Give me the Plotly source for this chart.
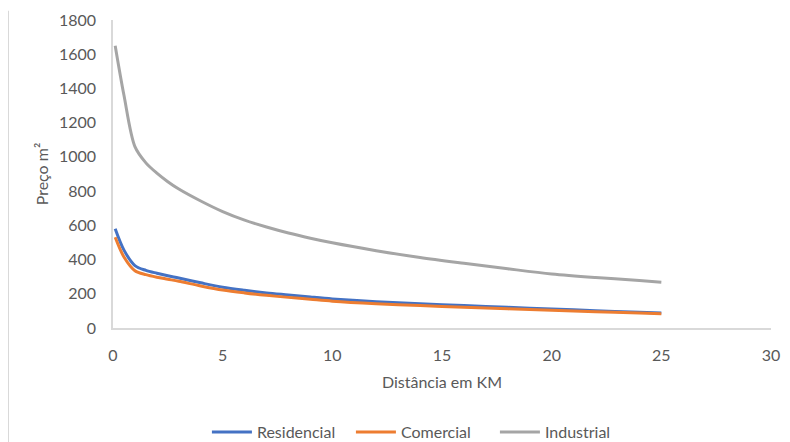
import plotly.graph_objects as go

distancia = [0.1, 0.5, 1, 1.5, 2, 2.5, 3, 4, 5, 6, 7, 8, 9, 10, 12, 14, 16, 18, 20, 22, 24, 25]
residencial = [580, 455, 365, 337, 320, 305, 292, 264, 238, 220, 205, 193, 181, 170, 154, 142, 131, 121, 111, 101, 92, 88]
comercial = [530, 415, 335, 312, 297, 285, 273, 246, 222, 205, 191, 179, 168, 157, 142, 131, 121, 112, 104, 95, 87, 84]
industrial = [1650, 1360, 1060, 965, 905, 855, 812, 742, 680, 630, 590, 555, 525, 498, 452, 412, 378, 346, 316, 295, 278, 268]

series = [
    ("Residencial", residencial, "#4472C4"),
    ("Comercial", comercial, "#ED7D31"),
    ("Industrial", industrial, "#A5A5A5"),
]

fig = go.Figure()
for name, vals, color in series:
    fig.add_trace(go.Scatter(x=distancia, y=vals, name=name, mode="lines",
                             line=dict(color=color, width=3, shape="spline", smoothing=0.9)))

font_family = "Lato, Calibri, sans-serif"
fig.update_layout(
    width=782, height=434,
    margin=dict(l=105, r=19, t=12, b=114, autoexpand=False),
    paper_bgcolor="white", plot_bgcolor="white",
    font=dict(family=font_family, color="#595959", size=16),
    showlegend=True,
    legend=dict(orientation="h", x=0.471, xanchor="center", y=-0.338, yanchor="middle",
                font=dict(size=16, color="#595959"), itemwidth=40, tracegroupgap=0,
                entrywidth=89, entrywidthmode="pixels"),
    xaxis=dict(range=[0, 30], tickvals=[0, 5, 10, 15, 20, 25, 30], showgrid=False,
               zeroline=False, showline=True, linecolor="#D9D9D9", linewidth=1.5,
               ticks="", ticklabelstandoff=12, tickfont=dict(size=16, color="#595959"),
               automargin=False,
               title=dict(text="Distância em KM", font=dict(size=16, color="#595959"), standoff=14)),
    yaxis=dict(range=[0, 1800], tickvals=[0, 200, 400, 600, 800, 1000, 1200, 1400, 1600, 1800],
               showgrid=False, zeroline=False, showline=True, linecolor="#D9D9D9", linewidth=1.5,
               ticks="", ticklabelstandoff=12, tickfont=dict(size=16, color="#595959"),
               automargin=False,
               title=dict(text="Preço m²", font=dict(size=16, color="#595959"), standoff=6)),
    shapes=[dict(type="line", xref="paper", yref="paper", x0=-0.1588, x1=-0.1588, y0=-0.5, y1=1.03,
                 line=dict(color="#D9D9D9", width=1))],
)

fig.write_html("out.html")
